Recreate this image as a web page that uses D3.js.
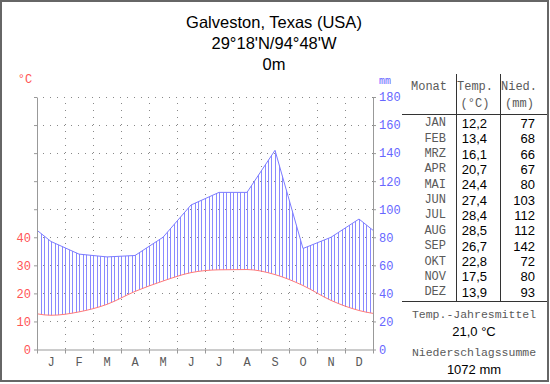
<!DOCTYPE html>
<html>
<head>
<meta charset="utf-8">
<script src="https://cdn.jsdelivr.net/npm/d3@7"></script>
<style>
  body { margin: 0; background: #fff; }
  svg { display: block; }
  .mono { font-family: "Liberation Mono", "DejaVu Sans Mono", monospace; }
  .sans { font-family: "Liberation Sans", Arial, sans-serif; }
</style>
</head>
<body>
<svg id="chart" width="550" height="384"></svg>
<script>
// data
const titleLines = ["Galveston, Texas (USA)", "29°18'N/94°48'W", "0m"];
const monthNames = ["JAN", "FEB", "MRZ", "APR", "MAI", "JUN", "JUL", "AUG", "SEP", "OKT", "NOV", "DEZ"];
const monthLetters = ["J", "F", "M", "A", "M", "J", "J", "A", "S", "O", "N", "D"];
const temps = [12.2, 13.4, 16.1, 20.7, 24.4, 27.4, 28.4, 28.5, 26.7, 22.8, 17.5, 13.9];
const precip = [77, 68, 66, 67, 80, 103, 112, 112, 142, 72, 80, 93];
const tempLabels = [0, 10, 20, 30, 40];
const precipLabels = [0, 20, 40, 60, 80, 100, 120, 140, 160, 180];

const fmt = v => d3.format(".1f")(v).replace(".", ",");
const monoColor = '#5a5a5a';

const svg = d3.select('#chart');

// outer frame
svg.append('rect')
    .attr('x', 1).attr('y', 1)
    .attr('width', 547).attr('height', 380)
    .attr('fill', 'none')
    .attr('stroke', '#666')
    .attr('stroke-width', 2);

// title
svg.selectAll('.title')
    .data(titleLines)
    .enter()
    .append('text')
    .attr('class', 'sans')
    .attr('x', 274)
    .attr('y', (d, i) => 28 + i * 21)
    .attr('text-anchor', 'middle')
    .style('font-size', '16.5px')
    .attr('fill', '#000')
    .text(d => d);

const plotLeft = 37, plotRight = 373, plotTop = 97, plotBottom = 349.5;

const xScale = d3.scaleLinear().domain([0, 12]).range([plotLeft, plotRight]);
const yTemp = d3.scaleLinear().domain([0, 90]).range([plotBottom, plotTop]);
const yPrec = d3.scaleLinear().domain([0, 180]).range([plotBottom, plotTop]);

// gridlines
const grid = svg.append('g').attr('stroke', '#888').attr('stroke-dasharray', '1,6');
grid.selectAll('.hgrid')
    .data(d3.range(10, 91, 10))
    .enter()
    .append('line')
    .attr('x1', plotLeft + 6).attr('x2', plotRight)
    .attr('y1', d => Math.round(yTemp(d)) + 0.5)
    .attr('y2', d => Math.round(yTemp(d)) + 0.5);
grid.selectAll('.vgrid')
    .data(d3.range(1, 12))
    .enter()
    .append('line')
    .attr('x1', d => Math.round(xScale(d)) + 0.5)
    .attr('x2', d => Math.round(xScale(d)) + 0.5)
    .attr('y1', plotTop + 6).attr('y2', plotBottom);

// series wrapped around the year so the lines reach both edges
const pts = [{m: -0.5, t: temps[11], p: precip[11]}]
    .concat(temps.map((t, i) => ({m: i + 0.5, t: t, p: precip[i]})))
    .concat([{m: 12.5, t: temps[0], p: precip[0]}]);

svg.append('clipPath').attr('id', 'plotClip')
    .append('rect')
    .attr('x', plotLeft).attr('y', plotTop)
    .attr('width', plotRight - plotLeft).attr('height', plotBottom - plotTop);

// clip regions for the humid hatching: above temperature, below precipitation
const aboveTemp = d3.area()
    .x(d => xScale(d.m))
    .y0(plotTop - 10)
    .y1(d => yTemp(d.t))
    .curve(d3.curveMonotoneX);
const belowPrec = d3.area()
    .x(d => xScale(d.m))
    .y0(plotBottom + 10)
    .y1(d => yPrec(d.p));

svg.append('clipPath').attr('id', 'aboveTemp')
    .append('path').attr('d', aboveTemp(pts));
svg.append('clipPath').attr('id', 'belowPrec')
    .append('path').attr('d', belowPrec(pts));

const plot = svg.append('g').attr('clip-path', 'url(#plotClip)');

plot.append('g')
    .attr('clip-path', 'url(#aboveTemp)')
    .append('g')
    .attr('clip-path', 'url(#belowPrec)')
    .selectAll('line')
    .data(d3.range(1, 96))
    .enter()
    .append('line')
    .attr('x1', d => Math.round(xScale(d / 8)) + 0.5)
    .attr('x2', d => Math.round(xScale(d / 8)) + 0.5)
    .attr('y1', plotTop).attr('y2', plotBottom)
    .attr('stroke', '#8a8aff')
    .attr('stroke-width', 1);

plot.append('path')
    .datum(pts)
    .attr('fill', 'none')
    .attr('stroke', '#7b7bff')
    .attr('stroke-width', 1)
    .attr('d', d3.line().x(d => xScale(d.m)).y(d => yPrec(d.p)));

plot.append('path')
    .datum(pts)
    .attr('fill', 'none')
    .attr('stroke', '#ff7a7a')
    .attr('stroke-width', 1)
    .attr('d', d3.line().x(d => xScale(d.m)).y(d => yTemp(d.t)).curve(d3.curveMonotoneX));

// axes
const leftAxis = svg.append('g')
    .attr('transform', `translate(${plotLeft}, 0)`)
    .call(d3.axisLeft(yTemp)
        .tickValues(d3.range(0, 91, 10))
        .tickSize(3)
        .tickSizeOuter(0)
        .tickFormat(d => tempLabels.includes(d) ? d : ''));
leftAxis.selectAll('text').attr('class', 'mono').attr('fill', '#f55').style('font-size', '12px');

const rightAxis = svg.append('g')
    .attr('transform', `translate(${plotRight}, 0)`)
    .call(d3.axisRight(yPrec)
        .tickValues(precipLabels)
        .tickSize(3)
        .tickSizeOuter(0));
rightAxis.selectAll('text').attr('class', 'mono').attr('fill', '#66f').style('font-size', '12px');

const bottomAxis = svg.append('g')
    .attr('transform', `translate(0, ${plotBottom})`)
    .call(d3.axisBottom(xScale)
        .tickValues(d3.range(0, 13))
        .tickSize(4)
        .tickSizeOuter(0)
        .tickFormat(''));

[leftAxis, rightAxis, bottomAxis].forEach(a => {
    a.select('.domain').attr('stroke', '#999');
    a.selectAll('.tick line').attr('stroke', '#999');
});

svg.selectAll('.mlabel')
    .data(monthLetters)
    .enter()
    .append('text')
    .attr('class', 'mono')
    .attr('x', (d, i) => xScale(i + 0.5))
    .attr('y', 363)
    .attr('dominant-baseline', 'central')
    .attr('text-anchor', 'middle')
    .attr('fill', monoColor)
    .style('font-size', '12px')
    .text(d => d);

svg.append('text').attr('class', 'mono')
    .attr('x', 25).attr('y', 80)
    .attr('text-anchor', 'middle').attr('dominant-baseline', 'central')
    .attr('fill', '#f55').style('font-size', '12px')
    .text('°C');
svg.append('text').attr('class', 'mono')
    .attr('x', 385).attr('y', 81)
    .attr('text-anchor', 'middle').attr('dominant-baseline', 'central')
    .attr('fill', '#66f').style('font-size', '10px')
    .text('mm');

// table
const table = svg.append('g');
const rowY = i => 123.3 + i * 15.36;

table.append('line').attr('x1', 402).attr('x2', 547).attr('y1', 114.5).attr('y2', 114.5).attr('stroke', '#333');
table.append('line').attr('x1', 402).attr('x2', 547).attr('y1', 301.5).attr('y2', 301.5).attr('stroke', '#333');
[456.5, 500.5].forEach(x => {
    table.append('line').attr('x1', x).attr('x2', x).attr('y1', 74).attr('y2', 301).attr('stroke', '#333');
});

const headers = [
    {text: 'Monat', x: 447, y: 87, anchor: 'end'},
    {text: 'Temp.', x: 475, y: 87, anchor: 'middle'},
    {text: '(°C)', x: 475, y: 103.5, anchor: 'middle'},
    {text: 'Nied.', x: 519, y: 87, anchor: 'middle'},
    {text: '(mm)', x: 519.5, y: 103.5, anchor: 'middle'}
];
table.selectAll('.hdr')
    .data(headers)
    .enter()
    .append('text')
    .attr('class', 'mono')
    .attr('x', d => d.x).attr('y', d => d.y)
    .attr('text-anchor', d => d.anchor)
    .attr('dominant-baseline', 'central')
    .attr('fill', monoColor)
    .style('font-size', '12px')
    .text(d => d.text);

table.selectAll('.mname')
    .data(monthNames)
    .enter()
    .append('text')
    .attr('class', 'mono')
    .attr('x', 446).attr('y', (d, i) => rowY(i))
    .attr('text-anchor', 'end').attr('dominant-baseline', 'central')
    .attr('fill', monoColor).style('font-size', '12px')
    .text(d => d);

table.selectAll('.tval')
    .data(temps)
    .enter()
    .append('text')
    .attr('class', 'sans')
    .attr('x', 487).attr('y', (d, i) => rowY(i))
    .attr('text-anchor', 'end').attr('dominant-baseline', 'central')
    .attr('fill', '#000').style('font-size', '13px')
    .text(d => fmt(d));

table.selectAll('.pval')
    .data(precip)
    .enter()
    .append('text')
    .attr('class', 'sans')
    .attr('x', 535).attr('y', (d, i) => rowY(i))
    .attr('text-anchor', 'end').attr('dominant-baseline', 'central')
    .attr('fill', '#000').style('font-size', '13px')
    .text(d => d);

const summary = [
    {text: 'Temp.-Jahresmittel', y: 314, cls: 'mono', size: '11.5px', color: monoColor},
    {text: fmt(d3.mean(temps)) + ' °C', y: 331, cls: 'sans', size: '13px', color: '#000'},
    {text: 'Niederschlagssumme', y: 352, cls: 'mono', size: '11.5px', color: monoColor},
    {text: d3.sum(precip) + ' mm', y: 369, cls: 'sans', size: '13px', color: '#000'}
];
table.selectAll('.sum')
    .data(summary)
    .enter()
    .append('text')
    .attr('class', d => d.cls)
    .attr('x', 474).attr('y', d => d.y)
    .attr('text-anchor', 'middle').attr('dominant-baseline', 'central')
    .attr('fill', d => d.color).style('font-size', d => d.size)
    .text(d => d.text);
</script>
</body>
</html>
